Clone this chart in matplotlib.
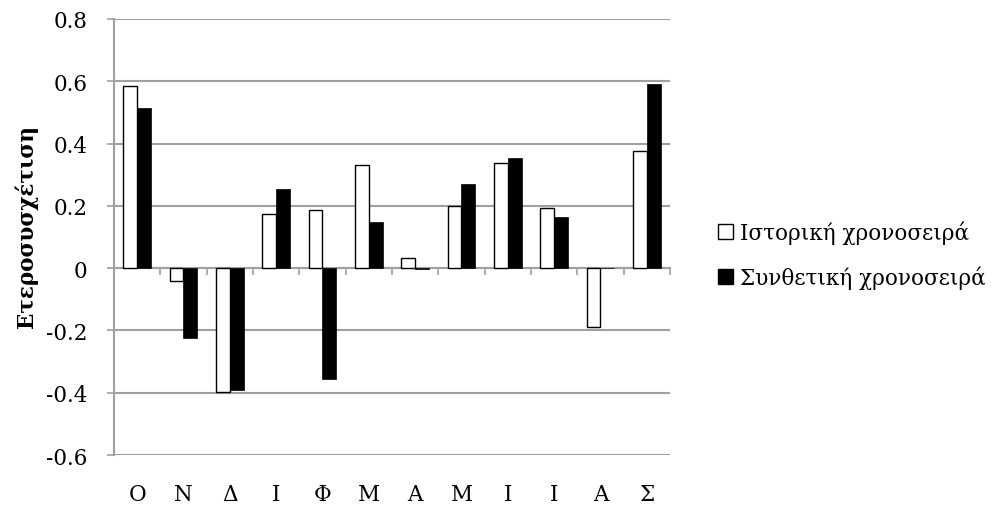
import numpy as np
import matplotlib.pyplot as plt
from matplotlib.patches import Patch

plt.rcParams['font.family'] = ['DejaVu Serif']

# Monthly cross-correlation, historical vs synthetic series
months = ['Ο', 'Ν', 'Δ', 'Ι', 'Φ', 'Μ', 'Α', 'Μ', 'Ι', 'Ι', 'Α', 'Σ']
historical = [0.586, -0.040, -0.398, 0.173, 0.188, 0.330, 0.032, 0.201, 0.336, 0.192, -0.188, 0.375]
synthetic = [0.513, -0.225, -0.392, 0.255, -0.355, 0.148, -0.003, 0.271, 0.355, 0.164, 0.0, 0.592]
yticks = [-0.6, -0.4, -0.2, 0, 0.2, 0.4, 0.6, 0.8]
ytick_labels = ['-0.6', '-0.4', '-0.2', '0', '0.2', '0.4', '0.6', '0.8']

grid_gray = '#a0a0a0'
fs = 15.5

fig = plt.figure(figsize=(9.98, 5.06), dpi=100)
ax = fig.add_axes([0.1142, 0.0988, 0.5571, 0.8617])

x = np.arange(len(months))
w = 0.30
ax.bar(x - w / 2, historical, w, color='white', edgecolor='black', linewidth=1.0, zorder=3)
ax.bar(x + w / 2, synthetic, w, color='black', edgecolor='black', linewidth=0.5, zorder=3)

ax.set_xlim(-0.5, len(months) - 0.5)
ax.set_ylim(-0.6, 0.8)
ax.set_yticks(yticks)
ax.set_yticklabels(ytick_labels)
ax.yaxis.grid(True, color=grid_gray, linewidth=1.5, zorder=0)
ax.set_axisbelow(True)

for s in ['top', 'right', 'bottom']:
    ax.spines[s].set_visible(False)
ax.spines['left'].set_color(grid_gray)
ax.spines['left'].set_linewidth(1.5)

ax.tick_params(axis='y', length=5, width=1.2, color=grid_gray, pad=14, labelsize=fs)
ax.set_xticks(x)
ax.set_xticklabels(months)
ax.tick_params(axis='x', length=0, pad=20, labelsize=fs)

# category axis crossing at zero with tick marks between categories
zero_axis = ax.secondary_xaxis(0, transform=ax.transData)
zero_axis.set_xticks(np.arange(len(months) + 1) - 0.5)
zero_axis.set_xticklabels([])
zero_axis.tick_params(length=5, width=1.2, color=grid_gray)
zero_axis.spines['bottom'].set_color(grid_gray)
zero_axis.spines['bottom'].set_linewidth(1.5)

ax.set_ylabel('Ετεροσυσχέτιση', fontsize=fs, fontweight='bold')
ax.yaxis.set_label_coords(-0.137, 0.526)

handles = [Patch(facecolor='white', edgecolor='black', linewidth=1.0),
           Patch(facecolor='black', edgecolor='black')]
fig.legend(handles, ['Ιστορική χρονοσειρά', 'Συνθετική χρονοσειρά'],
           loc='center left', bbox_to_anchor=(0.700, 0.495), frameon=False,
           fontsize=fs, handlelength=0.7, handleheight=0.7, handletextpad=0.3,
           labelspacing=1.0)

fig.savefig('out.png', dpi=100)
